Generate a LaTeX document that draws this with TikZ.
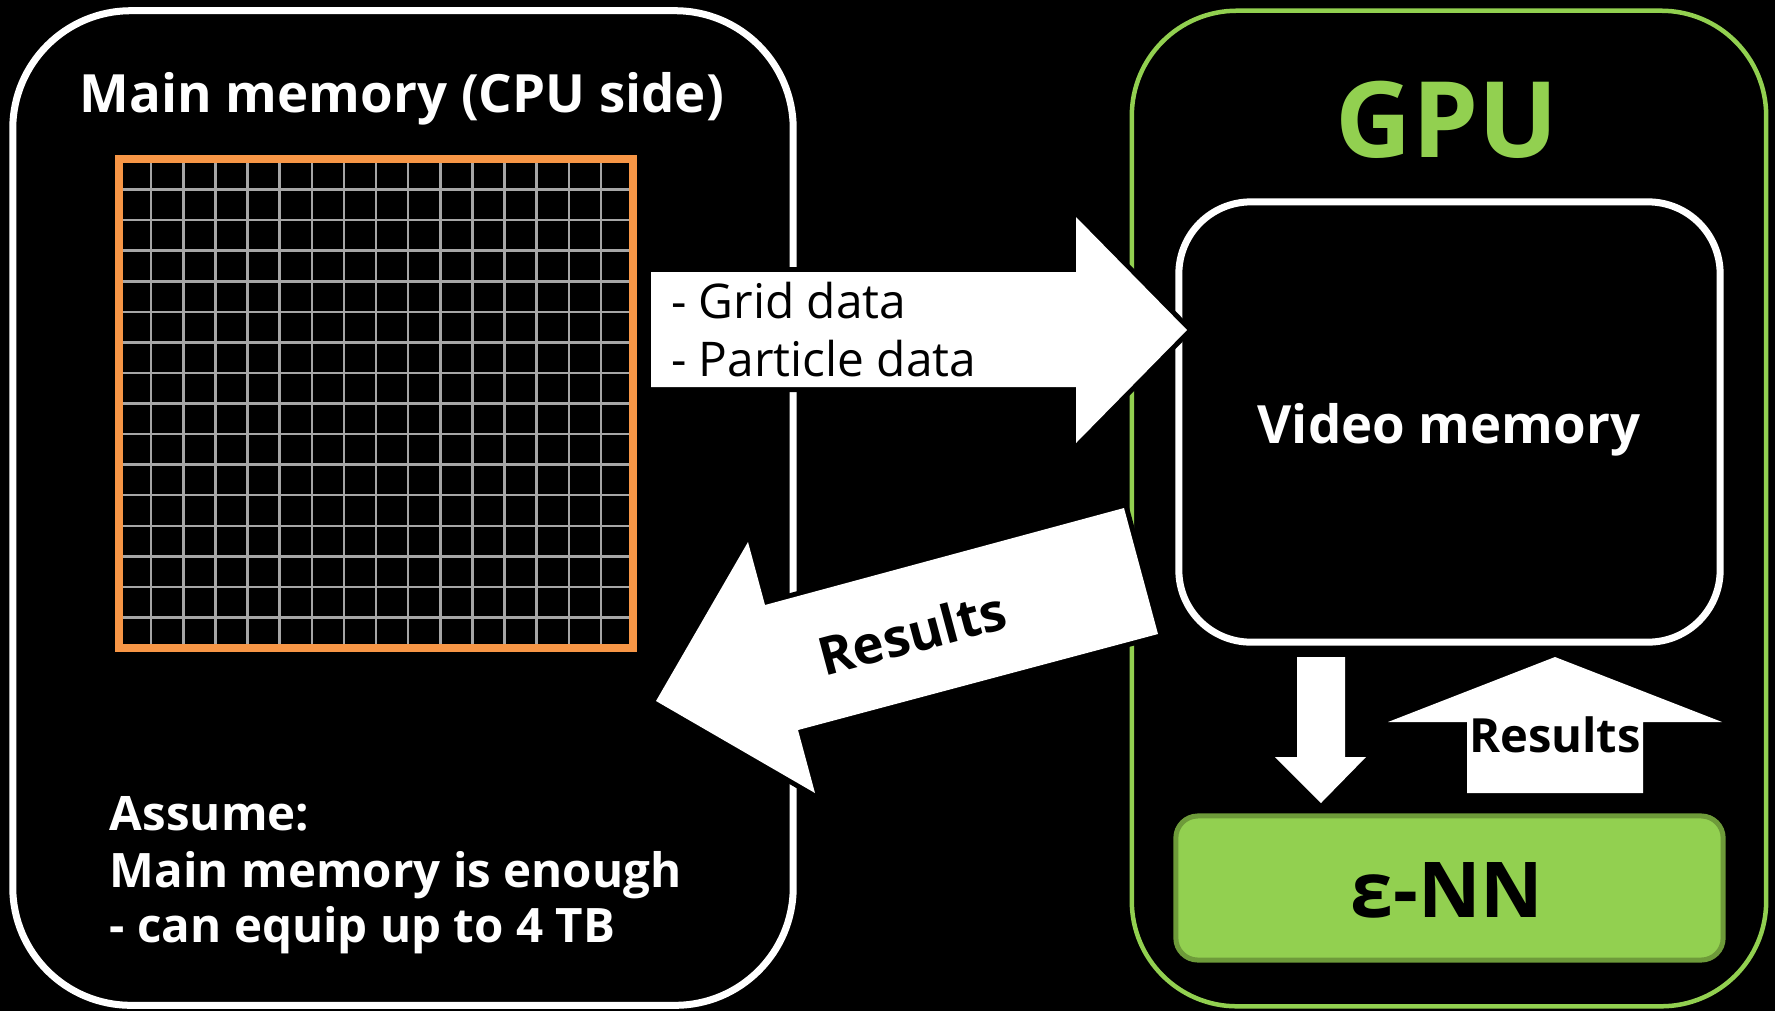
\documentclass[tikz,border=0pt]{standalone}
\usepackage{fontspec}
\setmainfont{Open Sans}
\definecolor{gpugreen}{HTML}{92D050}
\definecolor{ennedge}{HTML}{6E9B3A}
\definecolor{gridorange}{HTML}{F79646}
\definecolor{gridgray}{HTML}{A6A6A6}
\tikzset{
  panel/.style={draw, rectangle, inner sep=0pt, outer sep=0pt},
  label/.style={inner sep=0pt, outer sep=0pt, text=white},
  blockarrow/.style={fill=white, preaction={draw=black, line width=1mm, line join=round}},
  gridline/.style={draw=gridgray, line width=0.25mm},
}
\begin{document}
\begin{tikzpicture}[x=0.01cm, y=-0.01cm]
  % page
  \fill[black] (0,0) rectangle (1775,1011);
  \useasboundingbox (0,0) rectangle (1775,1011);

  % CPU side panel
  \node[panel, draw=white, line width=0.7mm, rounded corners=1.18cm,
        minimum width=7.8cm, minimum height=9.94cm] (cpu) at (403,508) {};
  \node[label, anchor=base, font=\bfseries\fontsize{15}{18}\selectfont] (cputitle) at (402,112) {Main memory (CPU side)};

  % grid of cells
  \foreach \i in {1,...,15} {
    \draw[gridline] ({119+\i*514/16},159) -- ({119+\i*514/16},648);
    \draw[gridline] (119,{159+\i*489/16}) -- (633,{159+\i*489/16});
  }
  \node[panel, draw=gridorange, line width=0.8mm, minimum width=5.14cm, minimum height=4.89cm] (grid) at (376,403.5) {};

  % assumption text
  \node[label, anchor=base west, font=\bfseries\fontsize{13.5}{16}\selectfont] (as1) at (110,830) {Assume:};
  \node[label, anchor=base west, font=\bfseries\fontsize{13.5}{16}\selectfont] (as2) at (110,887) {Main memory is enough};
  \node[label, anchor=base west, font=\bfseries\fontsize{13.5}{16}\selectfont] (as3) at (110,942) {- can equip up to 4 TB};

  % GPU panel
  \node[panel, draw=gpugreen, line width=0.45mm, rounded corners=1.05cm,
        minimum width=6.34cm, minimum height=9.95cm] (gpu) at (1449,508.5) {};
  \node[label, anchor=base, text=gpugreen, font=\bfseries\fontsize{30}{36}\selectfont] (gputitle) at (1447,157) {GPU};

  % video memory
  \node[panel, draw=white, line width=0.7mm, rounded corners=0.72cm,
        minimum width=5.41cm, minimum height=4.4cm] (vmem) at (1449.5,422) {};
  \node[label, anchor=base, font=\bfseries\fontsize{15}{18}\selectfont] (vmemtext) at (1449,443) {Video memory};

  % epsilon-NN kernel
  \node[panel, draw=ennedge, fill=gpugreen, line width=0.5mm, rounded corners=0.22cm,
        minimum width=5.47cm, minimum height=1.44cm] (enn) at (1449.5,888) {};
  \node[label, anchor=base, text=black, font=\bfseries\fontsize{21.9}{26}\selectfont] (enntext) at (1447,917) {ε-NN};

  % transfer to the GPU
  \path[blockarrow] (651,272) -- (1076,272) -- (1076,217) -- (1187,330)
        -- (1076,443) -- (1076,387) -- (651,387) -- cycle;
  \node[label, anchor=base west, text=black, font=\fontsize{13.6}{17}\selectfont] (up1) at (671,318) {- Grid data};
  \node[label, anchor=base west, text=black, font=\fontsize{13.6}{17}\selectfont] (up2) at (671,376) {- Particle data};

  % results back to main memory
  \path[blockarrow] (656,701) -- (748,542) -- (765,605) -- (1124,508)
        -- (1158,634) -- (798,730) -- (815,793) -- cycle;
  \node[label, rotate=15, text=black, font=\bfseries\fontsize{15}{18}\selectfont] (back) at (912,633) {Results};

  % video memory to kernel
  \path[blockarrow] (1297,657) -- (1345,657) -- (1345,757) -- (1366,757)
        -- (1321,803) -- (1275,757) -- (1297,757) -- cycle;

  % kernel results to video memory
  \path[blockarrow] (1467,793) -- (1467,722) -- (1388,722) -- (1555,657)
        -- (1722,722) -- (1643,722) -- (1643,793) -- cycle;
  \node[label, anchor=base, text=black, font=\bfseries\fontsize{13.4}{17}\selectfont] (res) at (1555,752) {Results};
\end{tikzpicture}
\end{document}
